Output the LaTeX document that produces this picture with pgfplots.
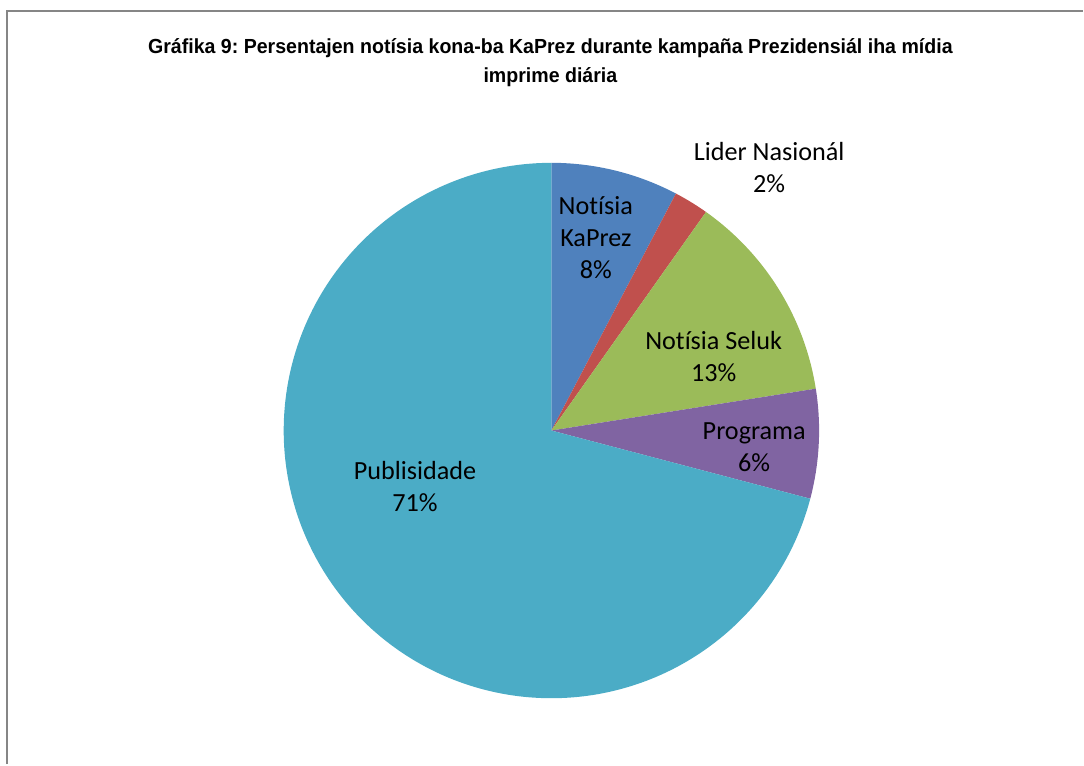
\documentclass[border=0pt]{standalone}
\usepackage{pgfplots}
\pgfplotsset{compat=1.18}
\usepackage{pgfplotstable}
\usepackage{fontspec}
\setmainfont[Ligatures=NoCommon]{Carlito}
\newfontfamily\titlefont[FakeStretch=0.96]{Liberation Sans}
\frenchspacing

\definecolor{cKaPrez}{HTML}{4F81BD}
\definecolor{cLider}{HTML}{C0504D}
\definecolor{cSeluk}{HTML}{9BBB59}
\definecolor{cPrograma}{HTML}{8064A2}
\definecolor{cPubli}{HTML}{4BACC6}
\definecolor{cFrame}{HTML}{868686}

% share of each slice, percent (clockwise from 12 o'clock)
\pgfplotstableread{
name value
KaPrez 7.7
Lider 2.1
Seluk 12.7
Programa 6.6
Publisidade 70.9
}\piedata

\pgfplotstablegetelem{0}{value}\of\piedata \let\vA\pgfplotsretval
\pgfplotstablegetelem{1}{value}\of\piedata \let\vB\pgfplotsretval
\pgfplotstablegetelem{2}{value}\of\piedata \let\vC\pgfplotsretval
\pgfplotstablegetelem{3}{value}\of\piedata \let\vD\pgfplotsretval
\pgfplotstablegetelem{4}{value}\of\piedata \let\vE\pgfplotsretval

\pgfmathsetmacro\aA{90}
\pgfmathsetmacro\aB{\aA-3.6*\vA}
\pgfmathsetmacro\aC{\aB-3.6*\vB}
\pgfmathsetmacro\aD{\aC-3.6*\vC}
\pgfmathsetmacro\aE{\aD-3.6*\vD}
\pgfmathsetmacro\aF{\aE-3.6*\vE}

\def\cx{552}
\def\cy{334}
\def\r{268}

\tikzset{
  lbl/.style={font=\fontsize{13.1}{16}\selectfont, align=center, inner sep=0pt},
  ttl/.style={font=\titlefont\bfseries\fontsize{10.2}{12}\selectfont, inner sep=0pt, anchor=base},
}

\begin{document}
\begin{tikzpicture}
\begin{axis}[
    scale only axis,
    width=542pt, height=382.5pt,
    xmin=0, xmax=1084, ymin=0, ymax=765,
    hide axis,
    clip=false,
]
\path (rel axis cs:0,0) rectangle (rel axis cs:1,1);
\draw[cFrame, line width=1.2pt, line cap=butt] (7,0) -- (7,754) -- (1084,754);

\addplot[fill=cKaPrez, draw=none, domain=\aB:\aA, samples=40, variable=\t]
    ({\cx+\r*cos(\t)}, {\cy+\r*sin(\t)}) -- (\cx,\cy) -- cycle;
\addplot[fill=cLider, draw=none, domain=\aC:\aB, samples=20, variable=\t]
    ({\cx+\r*cos(\t)}, {\cy+\r*sin(\t)}) -- (\cx,\cy) -- cycle;
\addplot[fill=cSeluk, draw=none, domain=\aD:\aC, samples=50, variable=\t]
    ({\cx+\r*cos(\t)}, {\cy+\r*sin(\t)}) -- (\cx,\cy) -- cycle;
\addplot[fill=cPrograma, draw=none, domain=\aE:\aD, samples=30, variable=\t]
    ({\cx+\r*cos(\t)}, {\cy+\r*sin(\t)}) -- (\cx,\cy) -- cycle;
\addplot[fill=cPubli, draw=none, domain=\aF:\aE, samples=240, variable=\t]
    ({\cx+\r*cos(\t)}, {\cy+\r*sin(\t)}) -- (\cx,\cy) -- cycle;

\node[ttl] at (551,711) {Gráfika 9: Persentajen notísia kona-ba KaPrez durante kampaña Prezidensiál iha mídia};
\node[ttl] at (551,682) {imprime diária};

\node[lbl] at (596.5,527) {Notísia\\KaPrez\\8\%};
\node[lbl] at (770,597) {Lider Nasionál\\2\%};
\node[lbl] at (714.5,408) {Notísia Seluk\\13\%};
\node[lbl] at (755,317) {Programa\\6\%};
\node[lbl] at (415.5,278) {Publisidade\\71\%};
\end{axis}
\end{tikzpicture}
\end{document}
